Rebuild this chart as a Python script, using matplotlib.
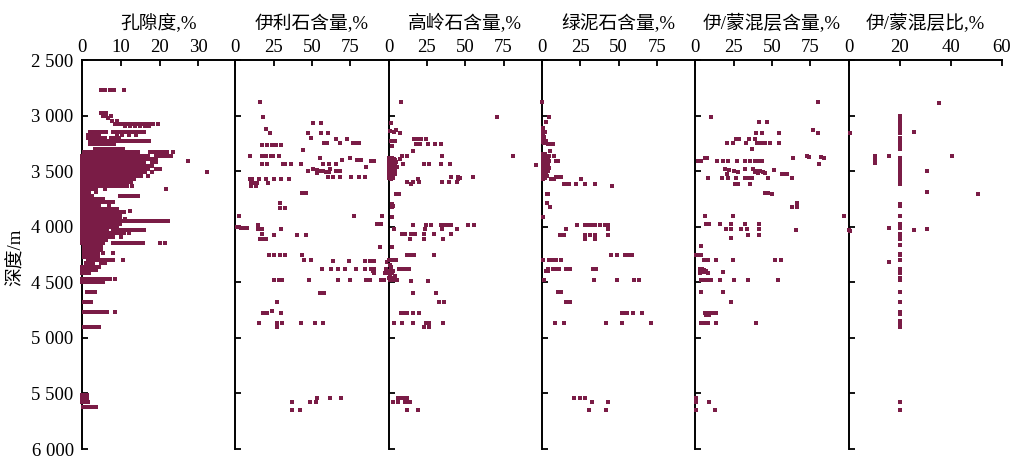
import matplotlib.pyplot as plt

plt.rcParams['font.family'] = ['Liberation Serif', 'Noto Sans CJK SC']

DOT = '#7a1c46'

titles = ['孔隙度,%', '伊利石含量,%', '高岭石含量,%', '绿泥石含量,%', '伊/蒙混层含量,%', '伊/蒙混层比,%']
xmax = [39.5, 100, 100, 100, 100, 60]
xticks = [[0, 10, 20, 30], [0, 25, 50, 75], [0, 25, 50, 75], [0, 25, 50, 75], [0, 25, 50, 75], [0, 20, 40, 60]]
depth_ticks = [2500, 3000, 3500, 4000, 4500, 5000, 5500, 6000]
depth_labels = ['2 500', '3 000', '3 500', '4 000', '4 500', '5 000', '5 500', '6 000']

# porosity log: one depth per row, all readings at that depth
por_depth = [2770, 2975, 3000, 3020, 3050, 3080, 3095, 3150, 3175, 3200, 3230, 3260, 3300,
             3330, 3360, 3390, 3410, 3420, 3450, 3480, 3510, 3540, 3570, 3600, 3630, 3660,
             3690, 3720, 3750, 3780, 3810, 3840, 3855, 3870, 3900, 3930, 3950, 3975, 4000,
             4030, 4060, 4090, 4120, 4150, 4180, 4210, 4240, 4270, 4300, 4330, 4360, 4390,
             4420, 4470, 4495, 4585, 4675, 4765, 4900, 5510, 5540, 5580, 5625]
por_rows = [
    [5.0, 5.9, 7.2, 8.2, 10.8],
    [4.8, 5.5, 6.2],
    [5.3, 6.1, 7.4],
    [6.6],
    [7.8, 9.0],
    [8.5, 9.4, 10.3, 11.2, 12.1, 13.0, 13.9, 14.8, 15.7, 16.6, 17.5, 18.4, 19.6],
    [11.0, 12.3, 13.6, 14.9, 16.2, 17.2],
    [2.0, 2.9, 3.8, 4.7, 5.6, 6.3, 8.0, 8.9, 9.8, 10.7, 11.6, 12.5, 13.4, 14.3, 15.2, 16.0],
    [1.5, 2.4, 3.3, 4.5, 9.0, 10.2, 12.0, 13.8],
    [1.6, 2.5, 3.4, 4.3, 5.2, 5.8, 7.5, 8.5, 9.5],
    [2.0, 2.9, 3.8, 4.7, 5.6, 6.5, 7.4, 8.3, 9.2, 10.1, 11.0, 11.9, 12.8, 13.7, 14.6, 15.5, 16.4, 17.2],
    [2.0, 2.9, 3.8, 4.7, 5.6, 6.5, 7.4, 8.2],
    [3.3, 4.2, 5.1, 6.0, 6.9, 7.8, 8.7, 9.6, 10.5],
    [0.5, 1.4, 2.3, 3.2, 4.1, 5.0, 5.9, 6.8, 7.7, 8.6, 9.5, 10.4, 11.3, 12.2, 13.1, 14.0, 14.5,
     17.4, 18.3, 19.2, 20.1, 21.0, 21.9, 23.4],
    [0.0, 0.9, 1.8, 2.7, 3.6, 4.5, 5.4, 6.3, 7.2, 8.1, 9.0, 9.9, 10.8, 11.7, 12.6, 13.5, 14.4,
     15.3, 16.2, 17.0, 19.0, 20.0, 21.0, 22.0, 23.0],
    [0.0, 0.9, 1.8, 2.7, 3.6, 4.5, 5.4, 6.3, 7.2, 8.1, 9.0, 9.9, 10.8, 11.7, 12.6, 13.5, 14.4,
     15.3, 16.2, 17.1, 18.0, 19.0],
    [27.2],
    [0.0, 0.9, 1.8, 2.7, 3.6, 4.5, 5.4, 6.3, 7.2, 8.1, 9.0, 9.9, 10.8, 11.7, 12.6, 13.5, 14.4,
     15.3, 16.0, 18.0, 19.0],
    [0.0, 0.9, 1.8, 2.7, 3.6, 4.5, 5.4, 6.3, 7.2, 8.1, 9.0, 9.9, 10.8, 11.7, 12.6, 13.5, 14.4,
     15.3, 16.2, 17.1, 18.0],
    [0.0, 0.9, 1.8, 2.7, 3.6, 4.5, 5.4, 6.3, 7.2, 8.1, 9.0, 9.9, 10.8, 11.7, 12.6, 13.5, 14.4,
     15.3, 16.2, 17.1, 19.0, 20.0],
    [0.0, 0.9, 1.8, 2.7, 3.6, 4.5, 5.4, 6.3, 7.2, 8.1, 9.0, 9.9, 10.8, 11.7, 12.6, 13.5, 14.4,
     15.3, 16.2, 18.0, 32.3],
    [0.0, 0.9, 1.8, 2.7, 3.6, 4.5, 5.4, 6.3, 7.2, 8.1, 9.0, 9.9, 10.8, 11.7, 12.6, 13.5, 14.4,
     15.3, 17.0],
    [0.0, 0.9, 1.8, 2.7, 3.6, 4.5, 5.4, 6.3, 7.2, 8.1, 9.0, 9.9, 10.8, 11.7, 12.6, 13.5],
    [0.0, 0.9, 1.8, 2.7, 3.6, 4.5, 5.4, 6.3, 7.2, 8.1, 9.0, 9.9, 10.8, 11.7, 12.6],
    [0.0, 0.9, 1.8, 2.7, 3.6, 4.5, 5.4, 6.3, 7.2, 8.1, 9.0, 9.9, 10.8, 11.7, 13.0],
    [0.0, 0.9, 1.8, 2.7, 3.6, 6.0, 21.7],
    [0.0, 0.9, 1.8, 3.5],
    [0.0, 0.9, 1.8, 2.7, 9.7, 10.6, 11.5, 12.4, 13.3, 14.4],
    [0.0, 0.9, 1.8, 2.7, 3.6, 4.5, 5.4],
    [0.0, 0.9, 1.8, 2.7, 3.6, 4.5, 5.4, 6.3, 7.2, 8.1],
    [0.0, 0.9, 1.8, 2.7, 3.6, 4.5, 7.0],
    [0.0, 0.9, 1.8, 2.7, 3.6, 4.5, 5.4, 6.3, 7.2, 8.1, 9.0],
    [12.3],
    [0.0, 0.9, 1.8, 2.7, 3.6, 4.5, 5.4, 6.3, 7.2, 8.1, 9.0, 9.9, 10.8],
    [0.0, 0.9, 1.8, 2.7, 3.6, 4.5, 5.4, 6.3, 7.2, 8.1, 9.0, 9.9],
    [0.0, 0.9, 1.8, 2.7, 3.6, 4.5, 5.4, 6.3, 7.2, 8.1, 9.0, 9.9, 11.0],
    [0.0, 0.9, 1.8, 2.7, 3.6, 4.5, 5.4, 6.3, 7.2, 8.1, 9.0, 9.9, 10.8, 11.7, 12.6, 13.5, 14.4,
     15.3, 16.2, 17.1, 18.0, 18.9, 19.8, 20.7, 21.6, 22.1],
    [0.0, 0.9, 1.8, 2.7, 3.6, 4.5, 5.4, 6.3, 7.2, 8.1, 9.0, 9.9],
    [0.0, 0.9, 1.8, 2.7, 3.6, 4.5, 5.4, 6.3, 7.2, 8.1, 9.0],
    [0.0, 0.9, 1.8, 2.7, 3.6, 4.5, 5.4, 6.5, 8.0, 9.0, 10.0, 11.0, 12.0, 13.0, 14.0, 15.0, 16.0],
    [0.0, 0.9, 1.8, 2.7, 3.6, 4.5, 5.4, 6.3, 7.2, 8.1, 9.0, 9.9, 10.8, 12.0],
    [0.0, 0.9, 1.8, 2.7, 3.6, 4.5, 5.4, 6.3, 7.2, 8.1, 10.0],
    [0.0, 0.9, 1.8, 2.7, 3.6, 4.5, 5.4, 6.3],
    [0.0, 0.9, 1.8, 2.7, 3.6, 4.5, 5.4, 8.0, 9.0, 10.0, 11.0, 12.0, 13.0, 14.0, 15.0, 15.7,
     20.0, 21.5],
    [0.5, 1.4, 2.3, 3.2, 4.1, 5.0],
    [0.5, 1.4, 2.3, 3.2, 4.1, 5.0],
    [0.6, 1.5, 2.4, 3.3, 4.2, 5.3, 8.0],
    [0.5, 1.4, 2.3, 3.2, 4.1],
    [1.6, 2.5, 3.4, 4.3, 5.2, 6.1, 7.0, 8.0, 10.6],
    [1.0, 1.9, 2.8, 5.0, 6.0],
    [0.0, 0.9, 1.8, 2.7, 3.6, 4.5],
    [0.0, 0.9, 1.8, 2.7, 3.6],
    [0.0, 0.9, 1.8],
    [0.0, 0.9, 1.8, 2.7, 3.6, 4.5, 5.4, 6.3, 7.2, 8.5],
    [0.0, 0.9, 1.8, 2.7, 3.6, 4.5, 5.4],
    [1.3, 2.3, 3.4],
    [0.6, 1.5, 2.3],
    [0.6, 1.6, 2.6, 3.6, 4.6, 5.6, 6.5, 8.5],
    [0.6, 1.6, 2.6, 3.5, 4.5],
    [0.0, 0.7, 1.3],
    [0.0, 0.7, 1.3],
    [0.0, 0.8, 1.6],
    [0.3, 1.1, 1.9, 2.7, 3.5],
]

# clay mineral analyses: (depth m, value %)
illite = [
    (2881, 16), (3015, 18), (3119, 19.7), (3158, 22.6),
    (3262, 17.5), (3262, 20.8), (3262, 24.1), (3262, 26.3), (3262, 29.6),
    (3066, 50.9), (3066, 55.9), (3155, 47.6), (3155, 55.9), (3155, 60.3),
    (3200, 49.5), (3244, 58.1), (3244, 59.9), (3209, 65.8), (3215, 73),
    (3250, 68), (3250, 76.8), (3250, 79), (3250, 80.7), (3313, 44.3),
    (3363, 9.9), (3363, 17.5), (3363, 19.7), (3363, 23), (3363, 24.8), (3363, 28.5),
    (3378, 55.4), (3378, 74.5), (3399, 69.7), (3399, 79.2), (3399, 81.8),
    (3438, 17.5), (3438, 20.4), (3438, 31), (3438, 32.6), (3438, 36.3), (3438, 42.9),
    (3438, 57), (3438, 61.4), (3438, 65.4), (3459, 85.2), (3408, 88.6), (3408, 90.8),
    (3497, 47.1), (3485, 51), (3490, 53), (3500, 55), (3495, 57), (3510, 59), (3505, 61),
    (3480, 62), (3515, 53.5), (3500, 65.8), (3497, 68),
    (3557, 60.3), (3557, 63.6), (3557, 68), (3557, 75.7), (3557, 81), (3557, 84.4),
    (3572, 9.4), (3572, 11), (3572, 15.4), (3572, 19.7), (3572, 25.2), (3572, 29.6), (3572, 35.1),
    (3610, 10), (3610, 12), (3610, 14), (3610, 21.1), (3631, 10.3), (3631, 13.2),
    (3700, 43.4), (3700, 46), (3789, 29.2), (3828, 29.2), (3828, 32.2),
    (3902, 77.4), (3902, 95.4), (3908, 2.2), (3974, 92.2), (3974, 95),
    (4000, 1.1), (4005, 2.5), (4010, 4), (4008, 5.5), (4012, 7.7),
    (3983, 14.9), (4018, 14.7), (4018, 17.5), (4018, 29.6),
    (4072, 25.2), (4072, 40), (4072, 46), (4063, 17.5),
    (4108, 16), (4108, 17.8), (4108, 19.7), (4182, 94.3),
    (4250, 21.8), (4250, 25.2), (4250, 29.2), (4250, 32.4), (4250, 43.3),
    (4295, 44.5), (4295, 49.3),
    (4310, 63.6), (4310, 74.1), (4310, 84.6), (4310, 87.9), (4310, 90.8), (4316, 99),
    (4376, 56.3), (4376, 62.5), (4376, 66.9), (4376, 71.3), (4376, 79), (4376, 84.4),
    (4376, 88.6), (4376, 90.4), (4376, 98.6),
    (4400, 89.5), (4420, 90.4), (4420, 97.4), (4420, 99.5),
    (4480, 25.2), (4480, 28.5), (4480, 30.2), (4480, 47.8), (4480, 66.7), (4480, 75),
    (4480, 85), (4480, 88), (4480, 95), (4480, 97),
    (4599, 55.4), (4599, 57.7), (4679, 27.4), (4757, 24.1),
    (4780, 18.2), (4780, 20.8), (4780, 29.6),
    (4867, 15.4), (4867, 27), (4867, 30.7), (4867, 42.6), (4867, 52), (4867, 57), (4905, 27.4),
    (5542, 53), (5542, 62), (5542, 69), (5581, 36.8), (5581, 49), (5581, 52.6),
    (5650, 36.8), (5650, 42),
]

kaolinite = [
    (2881, 7.9), (3015, 70.4), (3066, 1.8), (3127, 4.6), (3140, 1), (3150, 3.5), (3155, 7.3),
    (3215, 16.3), (3215, 18.4), (3215, 21.1), (3215, 24.3),
    (3259, 17.8), (3259, 20.7), (3259, 26), (3259, 30), (3259, 34.4),
    (3230, 1.5), (3230, 4.5), (3270, 2), (3319, 15.6),
    (3363, 8.9), (3363, 12.3), (3363, 34.6), (3363, 81.3),
    (3380, 0.5), (3380, 2), (3390, 1), (3390, 3.5), (3400, 0.5), (3400, 2), (3400, 4.5),
    (3410, 1), (3410, 3), (3420, 0.5), (3420, 2), (3420, 5), (3430, 1), (3430, 3.5),
    (3440, 0.5), (3440, 2), (3440, 4), (3450, 1), (3450, 3), (3460, 0.5), (3460, 2.5),
    (3460, 5.5), (3470, 1), (3470, 3), (3480, 0.5), (3480, 2), (3490, 1), (3490, 4),
    (3500, 0.5), (3500, 2.5), (3510, 1), (3510, 3.5), (3520, 0.5), (3520, 2), (3530, 1),
    (3530, 4.5), (3540, 0.5), (3540, 2.5), (3550, 1), (3560, 0.5), (3560, 3), (3570, 1.5),
    (3393, 7.5), (3438, 9.6), (3438, 23.2), (3438, 26.5), (3438, 34.4), (3438, 39.9), (3447, 96),
    (3557, 40.6), (3557, 45.5), (3557, 55.3), (3572, 19.3), (3572, 45.3), (3565, 46.5),
    (3601, 12.3), (3601, 15.6), (3601, 20), (3601, 34.6), (3601, 39.6), (3601, 44.5), (3616, 14.5),
    (3706, 4.6), (3706, 6.8), (3795, 2), (3810, 3), (3825, 2.5), (3914, 2.4),
    (3983, 15.6), (3983, 24.3), (3983, 27.6), (3983, 34.4), (3983, 36.5), (3983, 38.5),
    (3983, 40.6), (3983, 51.5), (3983, 55.9),
    (4018, 3.5), (4018, 23.7), (4018, 34.6), (4018, 44.7),
    (4063, 8.9), (4063, 10.5), (4063, 14.5), (4063, 17.3), (4063, 23.2), (4063, 29.8), (4063, 40.8),
    (4108, 14), (4108, 23.2), (4108, 35.3), (4182, 2.4),
    (4250, 12.3), (4250, 14.3), (4250, 16.3), (4250, 29.8),
    (4301, 0.5), (4301, 2), (4301, 3.5), (4301, 5),
    (4376, 6.8), (4376, 8.5), (4376, 10.5), (4376, 13.4),
    (4340, 1), (4360, 1.5), (4400, 1), (4400, 3), (4420, 0.5), (4420, 2.5), (4440, 1),
    (4440, 4), (4460, 0.5), (4460, 2), (4480, 1), (4480, 3), (4480, 5.7),
    (4489, 14.5), (4489, 25.4), (4599, 15.6), (4599, 31), (4679, 33.1), (4679, 36.4),
    (4780, 7.9), (4780, 10), (4780, 12), (4780, 15.6), (4780, 20),
    (4867, 3.5), (4867, 8.9), (4867, 15.6), (4867, 24.3), (4867, 26.5), (4867, 35.3),
    (4905, 23.2), (4905, 26.5),
    (5542, 6.2), (5542, 8), (5542, 10), (5542, 11.8), (5581, 3), (5581, 6.2), (5581, 11),
    (5581, 12.5), (5581, 14), (5650, 11.8), (5650, 19.4),
]

chlorite = [
    (2881, 0.3), (3015, 4.8), (3060, 2.6),
    (3110, 0.5), (3125, 1), (3140, 0.5), (3150, 2), (3165, 1), (3180, 0.5), (3195, 1.5),
    (3210, 1), (3225, 2.5), (3240, 0.5), (3250, 1.5),
    (3259, 3.7), (3259, 5), (3259, 6), (3259, 7), (3319, 5.3),
    (3363, 4.8), (3363, 8.1), (3408, 9.2), (3408, 10.7),
    (3350, 0.5), (3350, 2), (3365, 1), (3365, 3), (3380, 0.5), (3380, 2), (3380, 4),
    (3395, 1), (3395, 3), (3410, 0.5), (3410, 2), (3410, 4.5), (3425, 1), (3425, 3),
    (3440, 0.5), (3440, 2), (3440, 4), (3455, 1), (3455, 3), (3470, 0.5), (3470, 2),
    (3470, 4.5), (3485, 1), (3485, 3), (3500, 0.5), (3500, 2), (3500, 4), (3515, 1),
    (3515, 3), (3530, 0.5), (3530, 2), (3545, 1), (3545, 3.5), (3560, 0.5), (3560, 2), (3572, 1),
    (3557, 9.2), (3557, 10.5), (3557, 12.5), (3572, 5.9), (3572, 8.1), (3572, 25.7),
    (3616, 14.7), (3616, 16), (3616, 18), (3616, 22.4), (3616, 27.9), (3616, 34.4), (3631, 45.8),
    (3706, 3.3), (3706, 4.2), (3789, 3.3), (3825, 5.5), (3914, 0.4),
    (3983, 23), (3983, 27.9), (3983, 30), (3983, 32), (3983, 34.4), (3983, 37.7), (3983, 41), (3983, 43),
    (4018, 15.8), (4018, 42.8),
    (4072, 12.1), (4072, 14.7), (4072, 27.9), (4072, 31.2), (4072, 34.4), (4072, 43.2),
    (4108, 27.9), (4108, 34.4),
    (4257, 45.4), (4257, 49.3), (4257, 54.2), (4257, 56.5), (4257, 58.6),
    (4301, 0.4), (4301, 4.8), (4301, 6.5), (4301, 8), (4301, 9.2), (4301, 12.5),
    (4376, 3.7), (4376, 7), (4376, 8.3), (4376, 9.6), (4376, 11.4), (4376, 15.8), (4376, 18.6),
    (4376, 33.3), (4376, 35.5), (4400, 2.6), (4400, 3.7),
    (4480, 1.5), (4480, 33.9), (4480, 49), (4480, 60), (4480, 63.4),
    (4590, 10.3), (4590, 12.5), (4673, 15.8), (4673, 18.6),
    (4777, 52), (4777, 53.5), (4777, 55.3), (4777, 59.7), (4777, 65.1),
    (4867, 8.6), (4867, 14.7), (4867, 42.1), (4867, 52), (4867, 71.3),
    (5542, 20.7), (5542, 25), (5542, 28.3), (5581, 33), (5581, 42.8), (5650, 31), (5650, 42),
]

is_content = [
    (2881, 80), (3015, 10.5), (3060, 41.6), (3060, 46.7), (3131, 76.8), (3155, 80.3),
    (3155, 39.5), (3155, 43.9), (3155, 54.4),
    (3209, 26.3), (3209, 28.5), (3209, 35), (3209, 39),
    (3244, 21), (3244, 24.8), (3244, 32.9), (3244, 40), (3244, 42), (3244, 44), (3244, 45.6),
    (3244, 48.9), (3244, 54.4), (3304, 36.8),
    (3363, 73), (3375, 74.1), (3370, 81.9), (3380, 84), (3378, 6.1), (3385, 7.9), (3378, 63.8),
    (3408, 1.8), (3408, 3.9), (3408, 13.9), (3408, 18.3), (3408, 21.1), (3408, 27), (3408, 32.5),
    (3408, 35.7), (3408, 39), (3408, 41), (3408, 43.5), (3438, 80.9),
    (3482, 19.4), (3490, 22), (3500, 25), (3510, 28.1), (3527, 21), (3482, 32.5), (3485, 38),
    (3495, 40), (3500, 42), (3510, 44), (3520, 45.6), (3505, 39), (3520, 41), (3490, 51.6),
    (3527, 56.6), (3527, 58.5), (3530, 59.9),
    (3566, 8.3), (3566, 17.7), (3566, 21.7), (3566, 26.3), (3566, 32.5), (3566, 34.5),
    (3566, 36.8), (3566, 47.4), (3566, 63.2),
    (3616, 25.9), (3616, 28), (3616, 35.7), (3697, 45.6), (3700, 47.5), (3705, 50),
    (3789, 66.5), (3825, 63.2), (3825, 66.5),
    (3908, 6.1), (3908, 24.8), (3908, 97.2),
    (3974, 7.2), (3974, 8.8), (3974, 16.2), (3974, 23.2), (3974, 32.5), (3974, 41.6), (4027, 65.9),
    (4018, 20.4), (4018, 23.2), (4018, 29.8), (4018, 33.5), (4018, 41.6),
    (4072, 34.6), (4072, 41.6), (4102, 23.2), (4173, 3.9),
    (4250, 0.7), (4250, 2.5), (4250, 3.9), (4295, 51.8), (4295, 55.7),
    (4301, 5.7), (4301, 8.3), (4301, 13.8), (4301, 24.8),
    (4376, 2.9), (4376, 4.5), (4385, 6), (4390, 3), (4395, 5), (4400, 7), (4405, 4), (4410, 6),
    (4420, 3), (4420, 8.3), (4405, 18.3),
    (4480, 3.9), (4480, 6), (4480, 8.3), (4480, 10.5), (4480, 16), (4480, 25.4), (4480, 34.6),
    (4480, 53.9), (4590, 3.9), (4590, 18.3), (4673, 23.2),
    (4777, 6.1), (4777, 8), (4777, 10), (4777, 11.6), (4790, 7), (4790, 9), (4777, 13.4),
    (4867, 3.9), (4867, 6.1), (4867, 8.3), (4867, 13.4), (4867, 39.5),
    (5542, 0.3), (5581, 0.3), (5581, 9), (5650, 0.3), (5650, 13),
]

is_ratio = [
    (2887, 35.4), (3149, 25.6), (3363, 10.3), (3384, 10.3), (3405, 10.3), (3429, 10.3),
    (3363, 15.8), (3363, 40.4), (3500, 30.6), (3691, 30.6), (3709, 50.7),
    (4012, 15.8), (4027, 25.6), (4018, 30.6), (4316, 15.8),
    (3155, 0.5), (4042, 0.5), (4030, 0.3),
    (3006, 20), (3030, 20), (3060, 20), (3090, 20), (3125, 20), (3161, 20), (3200, 20),
    (3229, 20), (3250, 20), (3274, 20), (3304, 20), (3378, 20), (3393, 20), (3408, 20),
    (3429, 20), (3447, 20), (3468, 20), (3482, 20), (3506, 20), (3527, 20), (3548, 20),
    (3572, 20), (3596, 20), (3616, 20), (3795, 20), (3816, 20), (3905, 20), (3974, 20),
    (3989, 20), (4012, 20), (4063, 20), (4078, 20), (4108, 20), (4167, 20), (4242, 20),
    (4257, 20), (4295, 20), (4376, 20), (4400, 20), (4420, 20), (4459, 20), (4480, 20),
    (4590, 20), (4673, 20), (4763, 20), (4786, 20), (4852, 20), (4882, 20), (4905, 20),
    (5581, 20), (5649, 20),
]

por_x, por_y = [], []
for d, row in zip(por_depth, por_rows):
    por_x += row
    por_y += [d] * len(row)

panels = [(por_x, por_y)]
for table in [illite, kaolinite, chlorite, is_content, is_ratio]:
    panels.append(([v for d, v in table], [d for d, v in table]))

fig = plt.figure(figsize=(10.15, 4.59), dpi=100)
left, width = 82 / 1015, 153.3 / 1015
bottom, height = 10 / 459, 389 / 459

for i, (xs, ys) in enumerate(panels):
    ax = fig.add_axes([left + i * width, bottom, width, height])
    ax.scatter(xs, ys, s=6.5, marker='s', color=DOT, linewidths=0, clip_on=False, zorder=3)
    ax.set_xlim(0, xmax[i])
    ax.set_ylim(6000, 2500)
    ax.set_xticks(xticks[i])
    ax.set_yticks(depth_ticks)
    ax.spines['right'].set_visible(False)
    ax.spines['bottom'].set_visible(False)
    for side in ['top', 'left']:
        ax.spines[side].set_linewidth(1.4)
    ax.xaxis.tick_top()
    ax.tick_params(axis='x', direction='in', length=4, width=1.3, labelsize=13.5, pad=3,
                   top=True, bottom=False, labeltop=True, labelbottom=False)
    ax.tick_params(axis='y', direction='in', length=4, width=1.3, labelsize=13.5, pad=6,
                   left=True, right=False)
    if i == 0:
        ax.set_yticklabels(depth_labels)
    else:
        ax.tick_params(axis='y', labelleft=False)
    ax.set_title(titles[i], fontsize=13.5, pad=7)

fig.text(16 / 1015, 0.44, '深度/m', rotation=90, fontsize=13.5, ha='center', va='center')

fig.savefig('out.png', dpi=100)
